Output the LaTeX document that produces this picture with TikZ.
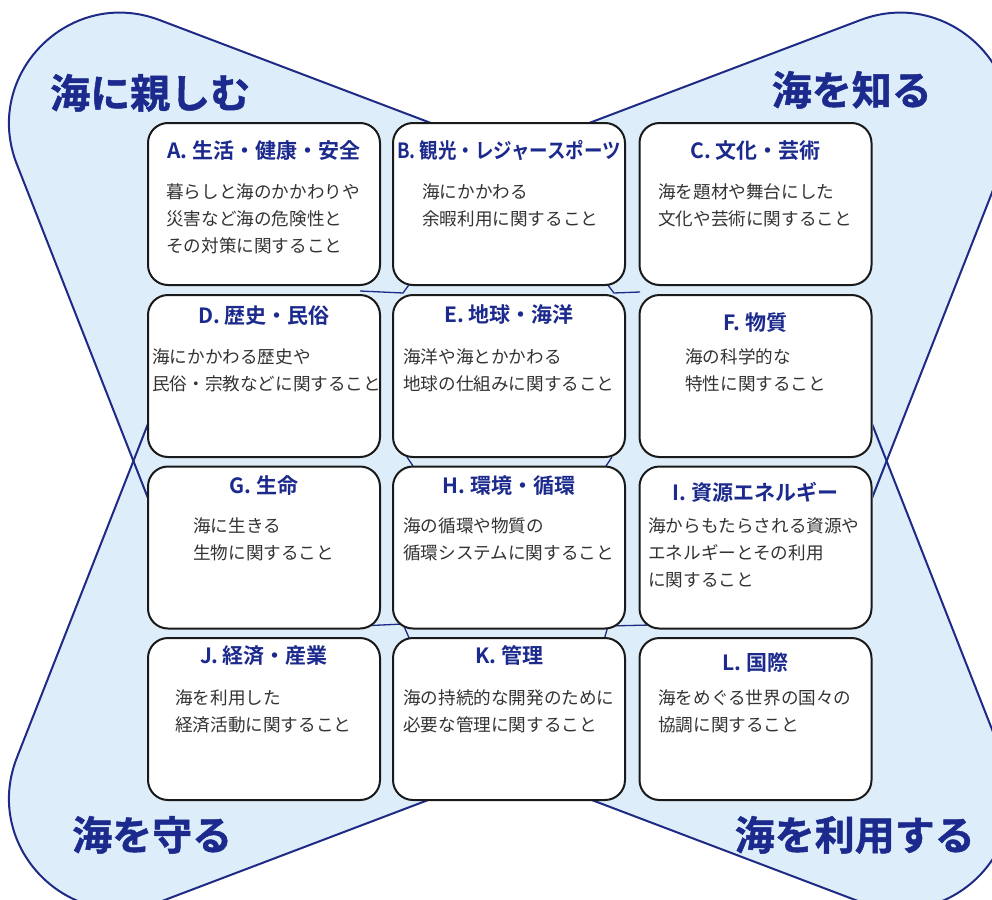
\documentclass[tikz,border=0pt]{standalone}
\usepackage{fontspec}
\usepackage{graphicx}
\setmainfont{Noto Sans CJK JP}[BoldFont={Noto Sans CJK JP Bold}]
\newfontfamily\heavyjp{Noto Sans CJK JP Bold}[FakeBold=1.2]
\definecolor{petalfill}{HTML}{DDEEFA}
\definecolor{petalline}{HTML}{1E2A86}
\definecolor{titleblue}{HTML}{1B2A8C}
\definecolor{bodygray}{HTML}{333333}
\definecolor{boxline}{HTML}{1A1A1A}
\tikzset{
  petal/.style={fill=petalfill},
  petaledge/.style={draw=petalline, line width=2pt, line join=round},
  stub/.style={draw=petalline, line width=1.3pt},
  card/.style={draw=boxline, line width=2pt, fill=white, rounded corners=20pt,
    minimum width=232pt, minimum height=162pt, inner sep=0},
  cardtitle/.style={inner sep=0, anchor=base, text=titleblue,
    font=\bfseries\fontsize{21}{25}\selectfont},
  cardbody/.style={inner sep=0, anchor=base west, text=bodygray,
    font=\fontsize{17.6}{27}\selectfont},
  biglabel/.style={inner sep=0, text=titleblue, font=\heavyjp\fontsize{40}{46}\selectfont}
}
\newcommand{\bodylines}[1]{\parbox[t]{260pt}{#1}}
\begin{document}
\begin{tikzpicture}[x=1pt,y=-1pt]
\useasboundingbox (0,0) rectangle (992,899);
% petals (fills)
\def\petTL{(510,461) -- (560,172) -- (159.7,20.1) .. controls (69.5,-14.2) and (-18.4,74.7) .. (16.9,164.4) -- (188,600) -- cycle}
\def\petTR{(510,461) -- (460,172) -- (860.3,20.1) .. controls (950.5,-14.2) and (1038.4,74.7) .. (1003.1,164.4) -- (832,600) -- cycle}
\def\petBL{(510,461) -- (560,750) -- (159.7,901.9) .. controls (69.5,936.2) and (-18.4,847.3) .. (16.9,757.6) -- (188,322) -- cycle}
\def\petBR{(510,461) -- (460,750) -- (860.3,901.9) .. controls (950.5,936.2) and (1038.4,847.3) .. (1003.1,757.6) -- (832,322) -- cycle}
\path[petal] \petTL;
\path[petal] \petTR;
\path[petal] \petBL;
\path[petal] \petBR;
\path[petaledge] \petTL;
\path[petaledge] \petTR;
\path[petaledge] \petBL;
\path[petaledge] \petBR;
% light blue ground behind the cards
\fill[petalfill] (147,122) rectangle (873,801);
% short petal edges visible at the inner junctions
\coordinate (j1a) at (360,291); \coordinate (j1b) at (403,293); \coordinate (j1c) at (411,282);
\coordinate (j2a) at (640,292); \coordinate (j2b) at (614,293); \coordinate (j2c) at (607,284);
\coordinate (j3a) at (407,457); \coordinate (j3b) at (413,466);
\coordinate (j4a) at (612,457); \coordinate (j4b) at (606,466);
\coordinate (j5a) at (360,626); \coordinate (j5b) at (403,624); \coordinate (j5c) at (410,640);
\coordinate (j6a) at (650,625); \coordinate (j6b) at (608,626); \coordinate (j6c) at (604,640);
\draw[stub] (j1a) -- (j1b) -- (j1c);
\draw[stub] (j2a) -- (j2b) -- (j2c);
\draw[stub] (j3a) -- (j3b);
\draw[stub] (j4a) -- (j4b);
\draw[stub] (j5a) -- (j5b) -- (j5c);
\draw[stub] (j6a) -- (j6b) -- (j6c);
% cards
\node[card] (a) at (264,204) {};
\node[card] (b) at (509,204) {};
\node[card] (c) at (755.5,204) {};
\node[card] (d) at (264,376) {};
\node[card] (e) at (509,376) {};
\node[card] (f) at (755.5,376) {};
\node[card] (g) at (264,547.5) {};
\node[card] (h) at (509,547.5) {};
\node[card] (i) at (755.5,547.5) {};
\node[card] (j) at (264,719) {};
\node[card] (k) at (509,719) {};
\node[card] (l) at (755.5,719) {};
% titles
\node[cardtitle] (ta) at (264,158) {A. 生活・健康・安全};
\node[cardtitle] (tb) at (509,158) {\scalebox{0.88}[1]{B. 観光・レジャースポーツ}};
\node[cardtitle] (tc) at (755.5,158) {C. 文化・芸術};
\node[cardtitle] (td) at (264,323) {D. 歴史・民俗};
\node[cardtitle] (te) at (509,322) {E. 地球・海洋};
\node[cardtitle] (tf) at (755.5,330) {F. 物質};
\node[cardtitle] (tg) at (264,493) {G. 生命};
\node[cardtitle] (th) at (509,493) {H. 環境・循環};
\node[cardtitle] (ti) at (755.5,500) {I. 資源エネルギー};
\node[cardtitle] (tj) at (264,663) {J. 経済・産業};
\node[cardtitle] (tk) at (509,663) {K. 管理};
\node[cardtitle] (tl) at (755.5,670) {L. 国際};
% bodies
\node[cardbody] (ba) at (166,198.5) {\bodylines{暮らしと海のかかわりや\\災害など海の危険性と\\その対策に関すること}};
\node[cardbody] (bb) at (422,198.5) {\bodylines{海にかかわる\\余暇利用に関すること}};
\node[cardbody] (bc) at (658,198.5) {\bodylines{海を題材や舞台にした\\文化や芸術に関すること}};
\node[cardbody] (bd) at (152,363.5) {\bodylines{海にかかわる歴史や\\民俗・宗教などに関すること}};
\node[cardbody] (be) at (403,363.5) {\bodylines{海洋や海とかかわる\\地球の仕組みに関すること}};
\node[cardbody] (bf) at (685,363.5) {\bodylines{海の科学的な\\特性に関すること}};
\node[cardbody] (bg) at (193,532.5) {\bodylines{海に生きる\\生物に関すること}};
\node[cardbody] (bh) at (403,532.5) {\bodylines{海の循環や物質の\\循環システムに関すること}};
\node[cardbody] (bi) at (648,532.5) {\bodylines{海からもたらされる資源や\\エネルギーとその利用\\に関すること}};
\node[cardbody] (bj) at (175,704.5) {\bodylines{海を利用した\\経済活動に関すること}};
\node[cardbody] (bk) at (403,704.5) {\bodylines{海の持続的な開発のために\\必要な管理に関すること}};
\node[cardbody] (bl) at (658,704.5) {\bodylines{海をめぐる世界の国々の\\協調に関すること}};
% big labels
\node[biglabel, anchor=base west] (ltl) at (50,108) {海に親しむ};
\node[biglabel, anchor=base east] (ltr) at (932,105) {海を知る};
\node[biglabel, anchor=base west] (lbl) at (72,850) {海を守る};
\node[biglabel, anchor=base east] (lbr) at (975,850) {海を利用する};
\end{tikzpicture}
\end{document}
